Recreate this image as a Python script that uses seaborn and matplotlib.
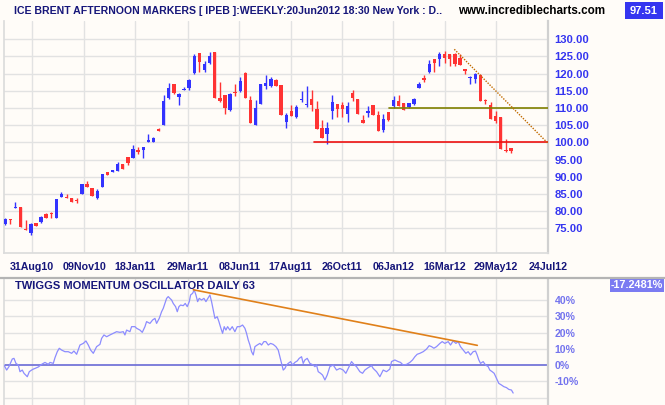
import numpy as np
import pandas as pd
import matplotlib
matplotlib.use("Agg")
import matplotlib.pyplot as plt
import seaborn as sns
from matplotlib.lines import Line2D
from matplotlib.patches import Rectangle

# ---------------- data (weekly candles, ICE Brent) ----------------
open_ = [76.3, 77.7, 81.0, 81.2, 74.9, 73.7, 76.5, 76.9, 79.1, 79.5,
         78.1, 84.2, 84.2, 83.7, 83.3, 85.0, 88.0, 86.7, 83.7, 86.9,
         91.4, 91.4, 91.8, 93.7, 95.8, 95.55, 97.8, 97.9, 100.1, 100.1,
         103.8, 105.05, 112.9, 117.0, 113.3, 115.25, 115.8, 120.1, 126.0, 121.1,
         123.2, 126.3, 113.0, 113.8, 109.4, 114.8, 115.0, 120.2, 112.3, 105.05,
         111.2, 116.5, 116.5, 118.2, 116.7, 106.0, 109.1, 107.4, 112.3, 110.9,
         112.6, 109.7, 104.2, 102.5, 109.2, 111.1, 110.9, 108.35, 114.4, 112.6,
         106.5, 108.65, 110.9, 108.0, 103.6, 108.75, 110.6, 112.0, 111.4, 110.4,
         111.2, 115.7, 118.6, 120.4, 124.2, 124.3, 125.6, 125.6, 125.6, 124.5,
         121.3, 118.6, 118.45, 119.6, 112.4, 110.9, 107.8, 107.3, 97.9, 98.4]
high = [78.0, 77.7, 82.6, 81.2, 77.4, 76.5, 76.5, 78.7, 79.4, 79.6,
        83.4, 85.5, 84.9, 83.7, 83.9, 87.9, 88.7, 86.7, 86.3, 90.8,
        91.4, 92.0, 94.3, 93.8, 95.8, 99.2, 98.7, 98.7, 102.4, 101.6,
        104.1, 113.8, 117.3, 117.0, 114.5, 116.0, 118.5, 125.7, 126.0, 123.7,
        126.2, 126.3, 117.7, 113.8, 114.5, 116.9, 119.0, 120.5, 113.5, 112.3,
        117.1, 119.6, 119.0, 118.4, 116.7, 108.45, 110.8, 110.9, 115.0, 116.3,
        115.3, 112.0, 106.5, 105.9, 113.8, 111.1, 111.75, 111.75, 115.3, 112.6,
        108.0, 110.6, 110.9, 109.1, 108.2, 108.75, 113.5, 113.8, 111.4, 111.6,
        112.8, 117.7, 119.6, 124.0, 124.2, 126.2, 126.6, 125.6, 125.9, 125.6,
        121.5, 119.2, 120.3, 119.9, 112.6, 111.65, 109.1, 107.3, 101.0, 98.4]
low = [76.1, 76.3, 81.0, 75.4, 74.4, 73.1, 75.8, 76.6, 78.0, 78.1,
       78.1, 84.2, 83.9, 82.7, 82.4, 85.0, 87.1, 84.4, 83.4, 86.9,
       90.5, 91.4, 91.8, 92.3, 93.5, 95.55, 96.7, 95.6, 100.1, 100.1,
       103.3, 105.05, 112.7, 114.0, 110.9, 115.25, 115.3, 119.8, 120.6, 120.6,
       122.9, 113.0, 111.75, 108.35, 109.1, 113.5, 114.8, 113.0, 105.7, 105.05,
       111.1, 115.6, 116.2, 116.5, 107.9, 104.1, 107.6, 107.2, 111.9, 110.2,
       109.2, 104.0, 101.4, 99.4, 106.8, 107.5, 107.5, 105.9, 112.0, 108.3,
       105.7, 107.4, 108.0, 103.3, 103.0, 106.3, 109.9, 110.6, 109.5, 110.1,
       110.9, 115.7, 117.5, 120.1, 120.4, 122.3, 123.2, 122.3, 122.3, 122.6,
       120.0, 116.9, 117.2, 112.0, 111.1, 106.9, 105.7, 98.2, 97.2, 97.0]
close = [77.7, 77.4, 81.3, 75.4, 74.5, 76.25, 75.8, 78.3, 78.1, 79.1,
         83.4, 85.0, 83.9, 82.7, 83.0, 87.9, 87.1, 84.4, 85.85, 90.8,
         90.5, 91.9, 93.7, 92.3, 94.0, 98.1, 97.3, 98.7, 100.7, 101.3,
         103.3, 112.0, 115.8, 114.5, 114.1, 115.6, 118.1, 125.1, 123.5, 122.8,
         125.1, 113.0, 112.0, 110.1, 114.1, 114.4, 117.9, 113.0, 105.7, 109.9,
         116.9, 117.3, 118.4, 116.5, 107.9, 108.0, 107.8, 110.2, 112.7, 111.2,
         110.9, 104.0, 101.4, 104.2, 111.65, 109.7, 109.7, 110.6, 113.0, 108.3,
         105.7, 109.1, 108.0, 103.3, 106.8, 106.5, 112.3, 110.6, 109.5, 111.4,
         112.6, 116.9, 118.3, 122.7, 123.2, 125.6, 124.5, 124.2, 122.7, 122.6,
         120.9, 119.0, 119.9, 112.0, 112.1, 106.9, 106.2, 98.2, 97.4, 97.51]

date_labels = ["31Aug10", "09Nov10", "18Jan11", "29Mar11", "08Jun11", "17Aug11",
               "26Oct11", "06Jan12", "16Mar12", "29May12", "24Jul12"]
date_pos = [5.28, 15.46, 25.44, 35.7, 45.8, 55.85, 65.95, 75.93, 86.1, 96.1, 106.26]
price_ticks = [75, 80, 85, 90, 95, 100, 105, 110, 115, 120, 125, 130]

# Twiggs momentum oscillator (daily series, read in weeks / percent)
osc_week = [-0.25, 0.27, 0.72, 1.37, 1.70, 2.09, 2.55, 2.88, 3.33, 3.66,
            4.31, 4.70, 5.16, 5.49, 5.81, 6.47, 7.12, 7.77, 8.42, 8.75,
            9.40, 9.73, 10.18, 10.57, 11.03, 11.68, 12.33, 12.99, 13.44, 13.97,
            14.62, 15.27, 15.79, 16.25, 16.71, 17.23, 17.88, 18.53, 18.86, 19.32,
            19.84, 20.49, 21.14, 21.79, 22.45, 23.10, 23.42, 23.75, 24.40, 24.73,
            25.38, 25.71, 26.36, 26.82, 27.34, 27.66, 28.32, 28.84, 29.30, 29.62,
            30.14, 30.60, 30.93, 31.25, 31.58, 31.90, 32.23, 32.56, 32.88, 33.34,
            33.67, 33.99, 34.32, 34.84, 35.23, 35.62, 36.02, 36.28, 36.67, 36.99,
            37.32, 37.65, 37.97, 38.43, 38.89, 39.28, 39.73, 40.06, 40.38, 40.71,
            41.04, 41.49, 41.82, 42.21, 42.54, 42.86, 43.19, 43.52, 43.97, 44.43,
            44.95, 45.41, 45.93, 46.45, 46.91, 47.23, 47.56, 47.89, 48.21, 48.54,
            48.87, 49.32, 49.84, 50.17, 50.63, 51.02, 51.48, 51.93, 52.45, 52.98,
            53.43, 53.76, 54.08, 54.41, 54.74, 55.06, 55.39, 55.85, 56.24, 56.69,
            57.15, 57.54, 58.00, 58.32, 58.65, 59.11, 59.63, 60.28, 60.61, 60.93,
            61.26, 61.72, 62.11, 62.57, 63.02, 63.54, 64.19, 64.85, 65.50, 66.15,
            66.67, 67.13, 67.78, 68.24, 68.76, 69.41, 69.94, 70.39, 71.05, 71.70,
            72.02, 72.68, 73.33, 73.98, 74.63, 75.28, 75.61, 76.26, 76.92, 77.37,
            77.89, 78.55, 79.20, 79.72, 80.18, 80.63, 81.16, 81.81, 82.46, 82.98,
            83.44, 83.90, 84.42, 85.08, 85.53, 86.05, 86.70, 87.16, 87.68, 88.21,
            88.66, 89.11, 89.64, 90.16, 90.61, 91.07, 91.59, 92.05, 92.37, 92.70,
            93.03, 93.55, 94.01, 94.53, 94.85, 95.31, 95.70, 96.16, 96.61, 97.13,
            97.59, 98.11, 98.57, 99.09, 99.42]
osc_pct = [0.0, -3.1, -1.0, 3.7, 4.1, 1.0, 0.0, -4.1, -3.1, -5.1,
           -7.2, -4.1, -3.1, -2.5, -2.1, -1.2, 0.4, 1.6, 0.4, 1.6,
           1.0, 4.5, 8.2, 10.3, 9.2, 8.2, 8.2, 7.2, 8.6, 6.6,
           12.3, 13.3, 14.8, 12.3, 9.2, 7.2, 11.3, 12.7, 16.4, 18.5,
           17.4, 18.5, 19.5, 20.5, 20.1, 20.5, 18.5, 21.5, 20.5, 23.6,
           23.6, 22.6, 21.5, 20.1, 23.6, 26.7, 25.6, 27.7, 28.7, 25.6,
           28.7, 32.8, 34.9, 37.9, 41.0, 42.1, 41.0, 40.0, 37.9, 35.9,
           32.8, 35.9, 36.9, 36.5, 37.9, 35.9, 39.0, 43.1, 44.1, 46.2,
           43.1, 39.0, 41.0, 40.0, 41.0, 39.0, 41.4, 43.1, 39.0, 33.8,
           28.7, 29.7, 26.7, 22.6, 19.5, 23.6, 21.5, 23.6, 21.5, 23.6,
           20.5, 23.6, 23.6, 24.6, 22.6, 19.5, 15.4, 12.3, 8.2, 6.2,
           11.3, 12.3, 13.3, 12.3, 14.4, 14.4, 12.3, 13.3, 12.7, 11.3,
           9.2, 5.1, 1.0, -3.1, -2.1, 0.0, 1.0, 2.1, 0.0, 1.6,
           2.5, 4.1, 5.1, 1.0, 3.1, 4.1, 1.0, 0.0, -1.0, 0.0,
           -4.1, -5.1, -6.2, -9.2, -6.2, -1.0, 0.0, -3.1, -2.1, -3.1,
           -5.1, -2.1, 2.1, 0.4, -1.0, -4.1, -5.1, -3.1, -1.6, -0.4,
           -2.1, -4.1, -7.2, -3.1, -4.1, -2.5, 2.1, 3.1, 2.1, 1.6,
           0.0, 0.4, 1.6, 3.1, 5.1, 6.6, 7.2, 8.2, 9.8, 11.9,
           11.3, 10.3, 11.3, 13.3, 14.4, 13.3, 14.4, 12.3, 14.8, 13.3,
           14.4, 11.3, 9.2, 7.2, 8.2, 6.2, 8.2, 8.6, 6.2, 3.1,
           1.0, 2.1, 0.0, -1.0, -3.1, -4.1, -5.1, -8.2, -11.3, -12.3,
           -13.3, -13.9, -15.0, -15.4, -17.2481]
osc_ticks = [-10, 0, 10, 20, 30, 40]
osc_grid = [-20, -10, 10, 20, 30, 40]

support_level, support_start = 100, 60.4
resist_level, resist_start = 110, 75.1
price_trend_x, price_trend_y = [87.9, 106.26], [127.1, 99.7]
osc_trend_x, osc_trend_y = [36.8, 92.4], [46.3, 12.1]

# ---------------- styling ----------------
sns.set_theme(style="white")
plt.rcParams["font.family"] = ["Liberation Sans", "DejaVu Sans"]
BG = "#fffcf8"
GRID = "#e2e2e2"
BLUE = "#3333ff"
RED = "#ff3333"
NAVY = "#16167a"

W, H = 665, 405
fig = plt.figure(figsize=(W / 100, H / 100), dpi=100, facecolor=BG)

def fx(px):
    return px / W

def fy(py):
    return 1 - py / H

ax = fig.add_axes([fx(4), fy(253), fx(548.3) - fx(4), fy(21) - fy(253)])
ax2 = fig.add_axes([fx(4), 0, fx(548.3) - fx(4), fy(279)])
XL = (-0.25, 106.3)

# ---------------- upper panel: candles ----------------
df = pd.DataFrame({"o": open_, "h": high, "l": low, "c": close})
df["x"] = np.arange(len(df))
df["up"] = df["c"] >= df["o"]
df["col"] = np.where(df["up"], BLUE, RED)
df["bot"] = df[["o", "c"]].min(axis=1)
df["hgt"] = (df["c"] - df["o"]).abs().clip(lower=0.3)

ax.set_facecolor(BG)
for v in price_ticks:
    ax.axhline(v, color=GRID, lw=1.0, zorder=0)
for p in date_pos:
    ax.axvline(p, color=GRID, lw=1.0, zorder=0)

ax.vlines(df["x"], df["l"], df["h"], colors=df["col"], lw=1.0, zorder=2)
ax.bar(df["x"], df["hgt"], bottom=df["bot"], width=0.66, color=df["col"],
       edgecolor="none", zorder=3)

sns.lineplot(x=[support_start, XL[1]], y=[support_level] * 2, ax=ax,
             color="#ee1111", lw=1.2, zorder=4)
sns.lineplot(x=[resist_start, XL[1]], y=[resist_level] * 2, ax=ax,
             color="#808000", lw=1.2, zorder=4)
ax.plot(price_trend_x, price_trend_y, color="#c06a00", lw=1.0,
        ls=(0, (1, 1)), zorder=4)

ax.set_xlim(*XL)
ax.set_ylim(67.81, 135.33)
ax.yaxis.tick_right()
ax.set_yticks(price_ticks)
ax.set_yticklabels([f"{v:.2f}" for v in price_ticks])
ax.set_xticks(date_pos)
ax.set_xticklabels(date_labels)
ax.tick_params(axis="y", length=0, pad=4.2, labelsize=8.1, labelcolor="#3535f0")
ax.tick_params(axis="x", length=0, pad=6.8, labelsize=7.7, labelcolor=NAVY)
for t in ax.get_yticklabels() + ax.get_xticklabels():
    t.set_fontweight("bold")
ax.spines["top"].set_visible(False)
ax.spines["left"].set_color("#dcdcdc")
ax.spines["bottom"].set_color("#dcdcdc")
ax.spines["right"].set_color("#d0d0d0")
ax.spines["right"].set_linewidth(1.6)
ax.set_xlabel("")
ax.set_ylabel("")

# ---------------- lower panel: oscillator ----------------
ax2.set_facecolor(BG)
for v in osc_grid:
    ax2.axhline(v, color=GRID, lw=1.0, zorder=0)
for p in date_pos:
    ax2.axvline(p, color=GRID, lw=1.0, zorder=0)
ax2.axhline(0, color="#6a6ad6", lw=1.2, zorder=1)
sns.lineplot(x=osc_week, y=osc_pct, ax=ax2, color="#8c8cff", lw=0.9,
             estimator=None, sort=False, zorder=3)
ax2.plot(osc_trend_x, osc_trend_y, color="#e0801a", lw=1.2, zorder=4)
ax2.set_xlim(*XL)
ax2.set_ylim(-24.6, 52.92)
ax2.yaxis.tick_right()
ax2.set_yticks(osc_ticks)
ax2.set_yticklabels([f"{v}%" for v in osc_ticks])
ax2.set_xticks([])
ax2.tick_params(axis="y", length=0, pad=4.5, labelsize=7.6, labelcolor="#7474ee")
for t in ax2.get_yticklabels():
    t.set_fontweight("bold")
ax2.spines["top"].set_visible(False)
ax2.spines["bottom"].set_visible(False)
ax2.spines["left"].set_color("#dcdcdc")
ax2.spines["right"].set_color("#d0d0d0")
ax2.spines["right"].set_linewidth(1.6)
ax2.set_xlabel("")
ax2.set_ylabel("")

# ---------------- texts & decorations ----------------
fig.add_artist(Line2D([0, 1], [fy(278)] * 2, color="#b4b4b4", lw=1.6))

fig.text(fx(14), fy(10.5),
         "ICE BRENT AFTERNOON MARKERS [ IPEB ]:WEEKLY:20Jun2012 18:30 New York : D..",
         ha="left", va="center", fontsize=7.55, fontweight="bold", color=NAVY)
fig.text(fx(458), fy(10.5), "www.incrediblecharts.com", ha="left", va="center",
         fontsize=8.4, fontweight="bold", color="black")
fig.add_artist(Rectangle((fx(625), fy(19)), fx(663) - fx(625), fy(2) - fy(19),
                         transform=fig.transFigure, fc="#3535f0", ec="none"))
fig.text(fx(644), fy(10.5), f"{close[-1]:.2f}", ha="center", va="center",
         fontsize=8, fontweight="bold", color="white")

fig.text(fx(15), fy(286), "TWIGGS MOMENTUM OSCILLATOR DAILY 63", ha="left",
         va="center", fontsize=8.0, fontweight="bold", color=NAVY)
fig.add_artist(Rectangle((fx(609.5), fy(291.5)), fx(663.5) - fx(609.5),
                         fy(279) - fy(291.5), transform=fig.transFigure,
                         fc="#7b7bf2", ec="none"))
fig.text(fx(636.5), fy(285.3), f"{osc_pct[-1]:.4f}%", ha="center", va="center",
         fontsize=7.8, fontweight="bold", color="white")

fig.savefig("out.png", dpi=100, facecolor=BG)
